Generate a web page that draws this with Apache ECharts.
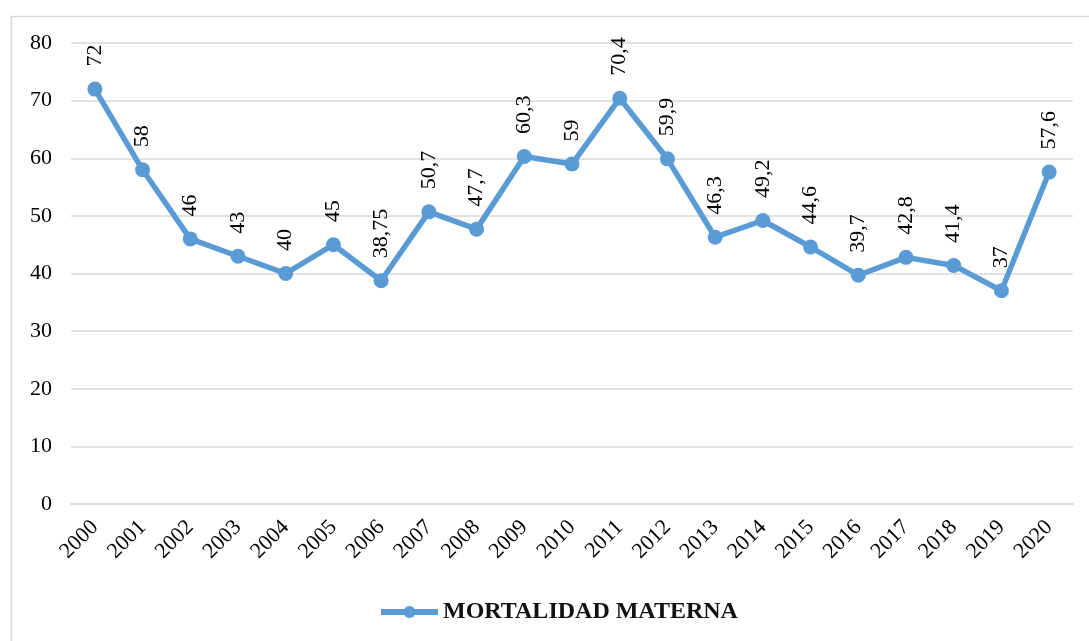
<!DOCTYPE html>
<html>
<head>
<meta charset="utf-8">
<script src="https://cdn.jsdelivr.net/npm/echarts@6/dist/echarts.min.js"></script>
<style>
  html, body { margin: 0; padding: 0; background: #fff; }
  #main { width: 1089px; height: 641px; }
</style>
</head>
<body>
<div id="main"></div>
<script>
var years = ['2000', '2001', '2002', '2003', '2004', '2005', '2006', '2007', '2008', '2009', '2010',
    '2011', '2012', '2013', '2014', '2015', '2016', '2017', '2018', '2019', '2020'];
var mortalidad = [72, 58, 46, 43, 40, 45, 38.75, 50.7, 47.7, 60.3, 59,
    70.4, 59.9, 46.3, 49.2, 44.6, 39.7, 42.8, 41.4, 37, 57.6];
var serieName = 'MORTALIDAD MATERNA';

var font = '"Liberation Serif", "Times New Roman", serif';
var myChart = echarts.init(document.getElementById('main'));

var option = {
    backgroundColor: '#fff',
    animation: false,
    textStyle: { fontFamily: font },
    graphic: [{
        type: 'rect',
        left: 9,
        top: 14,
        shape: { width: 1100, height: 660 },
        style: { fill: 'none', stroke: '#d9d9d9', lineWidth: 1.5 },
        silent: true
    }],
    grid: {
        left: 71,
        right: 16,
        top: 43,
        bottom: 137
    },
    legend: {
        bottom: 12,
        left: 373,
        itemWidth: 57,
        itemHeight: 15,
        itemGap: 4,
        lineStyle: { width: 6 },
        itemStyle: { borderWidth: 0 },
        textStyle: {
            fontFamily: font,
            fontSize: 24,
            fontWeight: 'bold',
            color: '#111'
        },
        data: [serieName]
    },
    xAxis: {
        type: 'category',
        data: years,
        boundaryGap: true,
        axisLine: { lineStyle: { color: '#d9d9d9', width: 1.5 } },
        axisTick: { show: false },
        axisLabel: {
            rotate: 45,
            fontFamily: font,
            fontSize: 22,
            color: '#000',
            margin: 20
        }
    },
    yAxis: {
        type: 'value',
        min: 0,
        max: 80,
        interval: 10,
        axisLine: { show: false },
        axisTick: { show: false },
        splitLine: { lineStyle: { color: '#d9d9d9', width: 1.5 } },
        axisLabel: {
            fontFamily: font,
            fontSize: 22,
            color: '#000',
            margin: 19
        }
    },
    series: [
        {
            name: serieName,
            type: 'line',
            data: mortalidad,
            symbol: 'circle',
            symbolSize: 15,
            itemStyle: { color: '#5b9bd5' },
            lineStyle: { color: '#5b9bd5', width: 5.5 },
            label: {
                show: true,
                position: 'top',
                distance: 15,
                rotate: 90,
                align: 'left',
                verticalAlign: 'middle',
                fontFamily: font,
                fontSize: 22,
                color: '#000',
                formatter: function (p) {
                    return String(p.value).replace('.', ',');
                }
            }
        }]
};
myChart.setOption(option);
</script>
</body>
</html>
